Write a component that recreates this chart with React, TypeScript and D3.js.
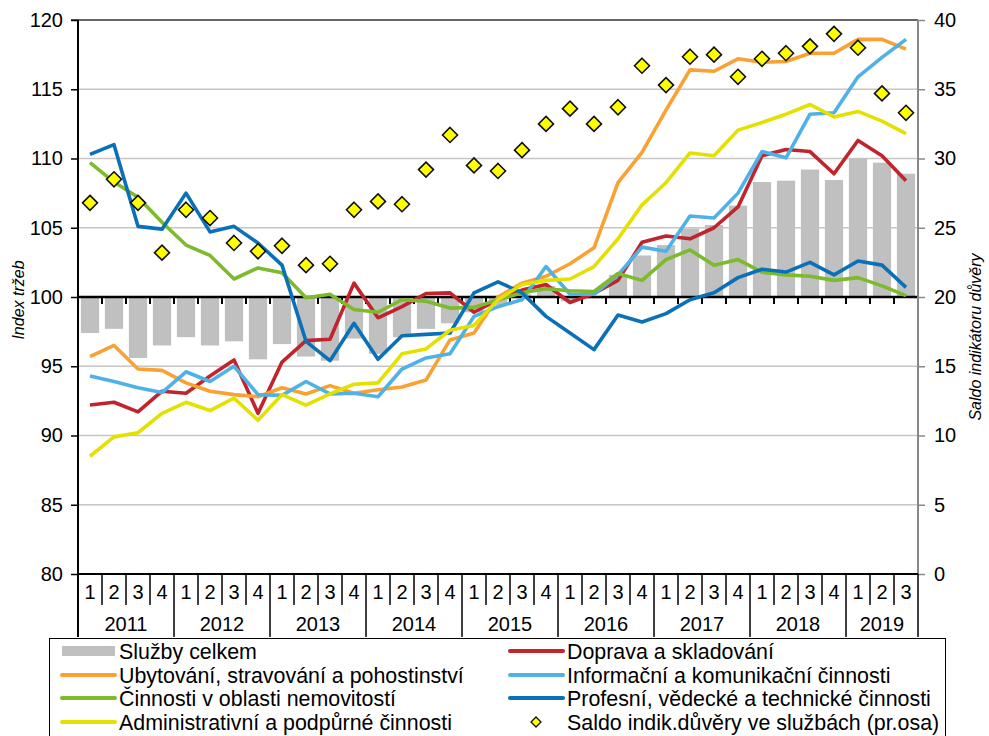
import { useEffect, useRef } from "react";
import * as d3 from "d3";

const quarterLabels = [
  "1", "2", "3", "4", "1", "2", "3", "4", "1", "2", "3", "4",
  "1", "2", "3", "4", "1", "2", "3", "4", "1", "2", "3", "4",
  "1", "2", "3", "4", "1", "2", "3", "4", "1", "2", "3",
];
const years = ["2011", "2012", "2013", "2014", "2015", "2016", "2017", "2018", "2019"];
const quartersPerYear = [4, 4, 4, 4, 4, 4, 4, 4, 3];

const sluzbyCelkem = [
  97.4, 97.7, 95.6, 96.5, 97.1, 96.5, 96.8, 95.5, 96.6, 95.7, 95.4, 97.0,
  95.9, 97.1, 97.7, 98.1, 98.9, 99.4, 100.2, 100.8, 99.7, 99.9, 101.6, 103.0,
  103.75, 104.95, 105.2, 106.6, 108.3, 108.4, 109.2, 108.45, 110.0, 109.7, 108.9,
];
const doprava = [
  92.2, 92.4, 91.7, 93.2, 93.05, 94.3, 95.45, 91.6, 95.3, 96.85, 96.95, 101.0,
  98.5, 99.3, 100.25, 100.3, 98.9, 99.8, 100.5, 100.9, 99.6, 100.25, 101.2, 103.95,
  104.4, 104.2, 105.0, 106.5, 110.2, 110.65, 110.5, 108.9, 111.3, 110.2, 108.4,
];
const ubytovani = [
  95.7, 96.5, 94.8, 94.7, 93.8, 93.2, 92.95, 92.8, 93.45, 93.0, 93.6, 93.05,
  93.3, 93.5, 94.0, 96.9, 97.4, 100.0, 101.0, 101.5, 102.4, 103.55, 108.25, 110.45,
  113.5, 116.4, 116.3, 117.2, 116.95, 117.0, 117.6, 117.6, 118.6, 118.6, 117.9,
];
const informacni = [
  94.3, 93.9, 93.45, 93.1, 94.6, 93.9, 95.0, 92.95, 92.9, 93.9, 93.0, 93.05,
  92.8, 94.8, 95.6, 95.9, 98.6, 99.3, 99.8, 102.2, 100.2, 100.2, 101.6, 103.6,
  103.3, 105.85, 105.7, 107.5, 110.5, 110.05, 113.2, 113.3, 115.9, 117.3, 118.6,
];
const nemovitosti = [
  109.7, 108.3, 107.2, 105.4, 103.75, 103.0, 101.3, 102.1, 101.75, 99.95, 100.2, 99.1,
  98.9, 99.8, 99.7, 99.2, 99.25, 99.8, 100.3, 100.6, 100.45, 100.4, 101.7, 101.2,
  102.7, 103.4, 102.3, 102.7, 101.8, 101.6, 101.5, 101.2, 101.4, 100.8, 100.1,
];
const profesni = [
  110.3, 111.0, 105.1, 104.9, 107.5, 104.7, 105.1, 103.9, 102.3, 96.8, 95.4, 98.1,
  95.5, 97.2, 97.3, 97.4, 100.3, 101.1, 100.3, 98.6, 97.4, 96.2, 98.7, 98.2,
  98.8, 99.8, 100.3, 101.4, 102.0, 101.8, 102.5, 101.6, 102.6, 102.3, 100.7,
];
const administrativni = [
  88.5, 89.9, 90.2, 91.6, 92.4, 91.8, 92.7, 91.1, 92.95, 92.2, 93.0, 93.7,
  93.8, 95.9, 96.25, 97.6, 97.95, 99.8, 100.9, 101.2, 101.3, 102.2, 104.2, 106.65,
  108.25, 110.4, 110.2, 112.05, 112.6, 113.2, 113.9, 113.0, 113.4, 112.7, 111.8,
];
const saldoDuvery = [
  26.8, 28.5, 26.8, 23.2, 26.3, 25.7, 23.9, 23.3, 23.7, 22.3, 22.4, 26.3,
  26.9, 26.7, 29.2, 31.7, 29.5, 29.1, 30.6, 32.5, 33.6, 32.5, 33.7, 36.7,
  35.3, 37.35, 37.5, 35.9, 37.2, 37.6, 38.1, 39.0, 38.0, 34.7, 33.3,
];

const lineSeries = [
  { name: "Doprava a skladování", values: doprava, color: "#c0242c" },
  { name: "Ubytování, stravování a pohostinství", values: ubytovani, color: "#f9a233" },
  { name: "Informační a komunikační činnosti", values: informacni, color: "#4fb2e6" },
  { name: "Činnosti v oblasti nemovitostí", values: nemovitosti, color: "#7dba2c" },
  { name: "Profesní, vědecké a technické činnosti", values: profesni, color: "#0a70b8" },
  { name: "Administrativní a podpůrné činnosti", values: administrativni, color: "#e4e000" },
];

const FONT = "'Liberation Sans', Arial, sans-serif";

export default function App() {
  const svgRef = useRef<SVGSVGElement | null>(null);

  useEffect(() => {
    const svgElement = svgRef.current;
    if (!svgElement) return;

    const width = 989;
    const height = 736;
    const plot = { left: 78, right: 918, top: 20, bottom: 574 };
    const yearLineBottom = 637;
    const quarterLineBottom = 605;

    const svg = d3.select(svgElement);
    svg.selectAll("*").remove();
    svg.attr("viewBox", `0 0 ${width} ${height}`);

    const idx = quarterLabels.map((_, i) => i);
    const x = d3.scaleBand<number>().domain(idx).range([plot.left, plot.right]);
    const yLeft = d3.scaleLinear().domain([80, 120]).range([plot.bottom, plot.top]);
    const yRight = d3.scaleLinear().domain([0, 40]).range([plot.bottom, plot.top]);
    const cx = (i: number) => (x(i) ?? 0) + x.bandwidth() / 2;

    // grid
    svg
      .append("g")
      .selectAll("line")
      .data([85, 90, 95, 105, 110, 115])
      .join("line")
      .attr("x1", plot.left)
      .attr("x2", plot.right)
      .attr("y1", (d) => yLeft(d))
      .attr("y2", (d) => yLeft(d))
      .attr("stroke", "#c6c6c6")
      .attr("stroke-width", 1.5);

    svg
      .append("line")
      .attr("x1", plot.left - 7)
      .attr("x2", plot.right)
      .attr("y1", yLeft(120))
      .attr("y2", yLeft(120))
      .attr("stroke", "#666")
      .attr("stroke-width", 2);

    // bars (Služby celkem) hanging from 100
    const barWidth = x.bandwidth() * 0.76;
    svg
      .append("g")
      .selectAll("rect")
      .data(sluzbyCelkem)
      .join("rect")
      .attr("x", (_, i) => cx(i) - barWidth / 2)
      .attr("y", (d) => Math.min(yLeft(d), yLeft(100)))
      .attr("width", barWidth)
      .attr("height", (d) => Math.abs(yLeft(d) - yLeft(100)))
      .attr("fill", "#c0c0c0");

    // category axis at 100
    svg
      .append("line")
      .attr("x1", plot.left)
      .attr("x2", plot.right)
      .attr("y1", yLeft(100))
      .attr("y2", yLeft(100))
      .attr("stroke", "#000")
      .attr("stroke-width", 2.5);
    svg
      .append("g")
      .selectAll("line")
      .data(idx.slice(1))
      .join("line")
      .attr("x1", (i) => x(i) ?? 0)
      .attr("x2", (i) => x(i) ?? 0)
      .attr("y1", yLeft(100))
      .attr("y2", yLeft(100) + 7)
      .attr("stroke", "#000")
      .attr("stroke-width", 2);

    // lines
    const line = d3
      .line<number>()
      .x((_, i) => cx(i))
      .y((d) => yLeft(d));
    svg
      .append("g")
      .selectAll("path")
      .data(lineSeries)
      .join("path")
      .attr("d", (s) => line(s.values))
      .attr("fill", "none")
      .attr("stroke", (s) => s.color)
      .attr("stroke-width", 3.6)
      .attr("stroke-linejoin", "round");

    // diamonds on right axis
    const diamond = (r: number) => `M0,${-r}L${r},0L0,${r}L${-r},0Z`;
    svg
      .append("g")
      .selectAll("path")
      .data(saldoDuvery)
      .join("path")
      .attr("transform", (d, i) => `translate(${cx(i)},${yRight(d)})`)
      .attr("d", diamond(7.5))
      .attr("fill", "#ffff00")
      .attr("stroke", "#111")
      .attr("stroke-width", 1.6);

    // left axis
    const left = svg
      .append("g")
      .attr("transform", `translate(${plot.left},0)`)
      .call(d3.axisLeft(yLeft).tickValues(d3.range(80, 121, 5)).tickSize(7).tickPadding(8));
    left.select(".domain").remove();
    left.selectAll(".tick line").attr("stroke", "#000").attr("stroke-width", 1.5);
    left
      .selectAll("text")
      .attr("font-family", FONT)
      .attr("font-size", 20)
      .attr("fill", "#000");
    svg
      .append("line")
      .attr("x1", plot.left)
      .attr("x2", plot.left)
      .attr("y1", plot.top)
      .attr("y2", yearLineBottom)
      .attr("stroke", "#000")
      .attr("stroke-width", 2);

    // right axis
    const right = svg
      .append("g")
      .attr("transform", `translate(${plot.right},0)`)
      .call(d3.axisRight(yRight).tickValues(d3.range(0, 41, 5)).tickSize(7).tickPadding(9));
    right.select(".domain").remove();
    right.selectAll(".tick line").attr("stroke", "#888").attr("stroke-width", 1.5);
    right
      .selectAll("text")
      .attr("font-family", FONT)
      .attr("font-size", 20)
      .attr("fill", "#000");
    svg
      .append("line")
      .attr("x1", plot.right)
      .attr("x2", plot.right)
      .attr("y1", plot.top)
      .attr("y2", plot.bottom)
      .attr("stroke", "#888")
      .attr("stroke-width", 2);

    // bottom category area
    svg
      .append("line")
      .attr("x1", plot.left)
      .attr("x2", plot.right)
      .attr("y1", plot.bottom)
      .attr("y2", plot.bottom)
      .attr("stroke", "#000")
      .attr("stroke-width", 2);

    const yearStarts = d3.cumsum([0, ...quartersPerYear]).slice(0, years.length + 1);
    const boundaryX = (i: number) => (i >= idx.length ? plot.right : x(i) ?? 0);
    svg
      .append("g")
      .selectAll("line")
      .data(d3.range(1, idx.length + 1))
      .join("line")
      .attr("x1", (i) => boundaryX(i))
      .attr("x2", (i) => boundaryX(i))
      .attr("y1", plot.bottom)
      .attr("y2", (i) => (yearStarts.includes(i) ? yearLineBottom : quarterLineBottom))
      .attr("stroke", "#000")
      .attr("stroke-width", 1.5);

    svg
      .append("g")
      .selectAll("text")
      .data(quarterLabels)
      .join("text")
      .attr("x", (_, i) => cx(i))
      .attr("y", 599)
      .attr("text-anchor", "middle")
      .attr("font-family", FONT)
      .attr("font-size", 20)
      .text((d) => d);

    svg
      .append("g")
      .selectAll("text")
      .data(years)
      .join("text")
      .attr("x", (_, k) => (boundaryX(yearStarts[k]) + boundaryX(yearStarts[k + 1])) / 2)
      .attr("y", 631)
      .attr("text-anchor", "middle")
      .attr("font-family", FONT)
      .attr("font-size", 20)
      .text((d) => d);

    // axis titles
    svg
      .append("text")
      .attr("transform", `translate(24,${yLeft(100) + 3}) rotate(-90)`)
      .attr("text-anchor", "middle")
      .attr("font-family", FONT)
      .attr("font-size", 16)
      .attr("font-style", "italic")
      .text("Index tržeb");
    svg
      .append("text")
      .attr("transform", `translate(981,337) rotate(-90)`)
      .attr("text-anchor", "middle")
      .attr("font-family", FONT)
      .attr("font-size", 16)
      .attr("font-style", "italic")
      .text("Saldo indikátoru důvěry");

    // legend
    const legend = svg.append("g");
    legend
      .append("rect")
      .attr("x", 49.5)
      .attr("y", 638.5)
      .attr("width", 896)
      .attr("height", 120)
      .attr("fill", "#fff")
      .attr("stroke", "#000")
      .attr("stroke-width", 1);

    const legendItems = [
      { name: "Služby celkem", kind: "bar", color: "#c0c0c0" },
      ...lineSeries.map((s) => ({ name: s.name, kind: "line", color: s.color })),
      { name: "Saldo indik.důvěry ve službách (pr.osa)", kind: "diamond", color: "#ffff00" },
    ];
    const colX = [62, 510];
    const rowY = [651, 675, 698, 722];
    const items = legend
      .selectAll("g")
      .data(legendItems)
      .join("g")
      .attr("transform", (_, k) => `translate(${colX[k % 2]},${rowY[Math.floor(k / 2)]})`);
    items.each(function (item) {
      const g = d3.select(this);
      if (item.kind === "bar") {
        g.append("rect").attr("x", 0).attr("y", -5).attr("width", 53).attr("height", 10).attr("fill", item.color);
      } else if (item.kind === "line") {
        g.append("line")
          .attr("x1", 0)
          .attr("x2", 53)
          .attr("stroke", item.color)
          .attr("stroke-width", 4)
          .attr("stroke-linecap", "round");
      } else {
        g.append("path")
          .attr("transform", "translate(26,0)")
          .attr("d", diamond(5))
          .attr("fill", item.color)
          .attr("stroke", "#111")
          .attr("stroke-width", 1.3);
      }
      g.append("text")
        .attr("x", 57)
        .attr("y", 7.5)
        .attr("font-family", FONT)
        .attr("font-size", 21.4)
        .text(item.name);
    });
  }, []);

  return (
    <svg
      ref={svgRef}
      width={989}
      height={736}
      style={{ position: "absolute", left: 0, top: 0, background: "#fff" }}
      role="img"
      aria-label="Index tržeb ve službách"
    />
  );
}
